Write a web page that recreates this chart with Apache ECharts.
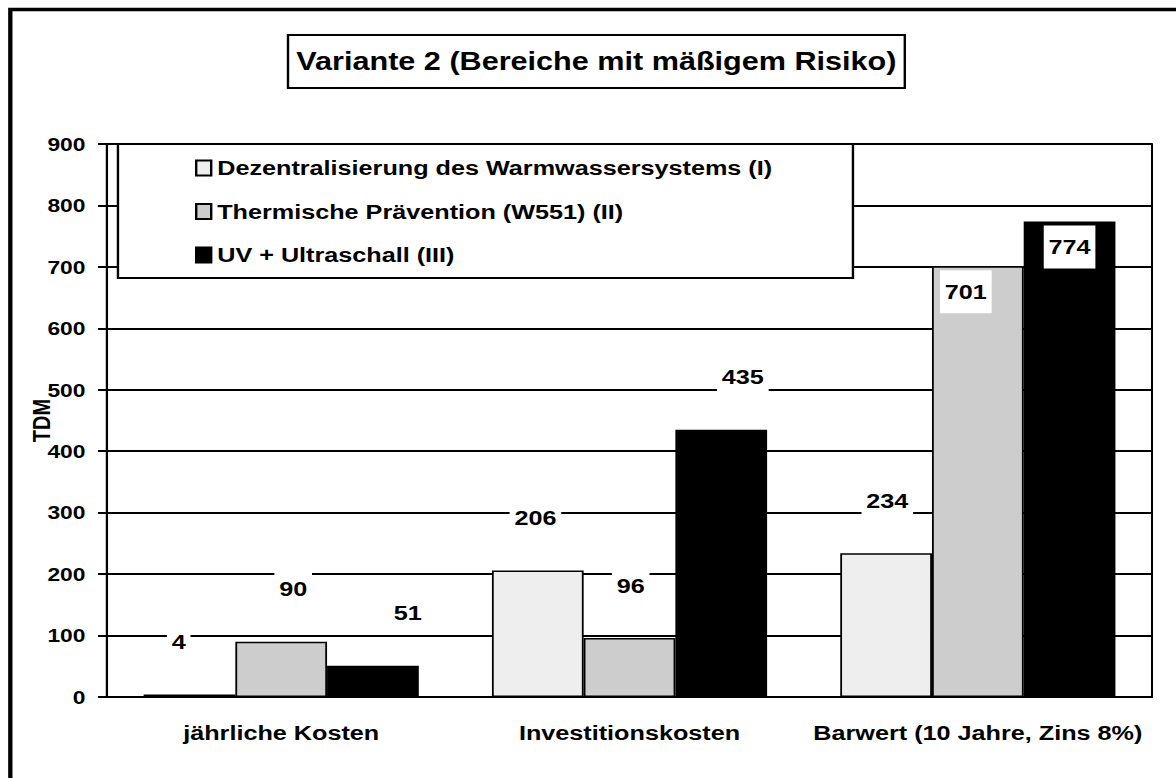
<!DOCTYPE html>
<html>
<head>
<meta charset="utf-8">
<script src="https://cdn.jsdelivr.net/npm/echarts@6/dist/echarts.min.js"></script>
<style>
  html, body { margin: 0; padding: 0; background: #fff; overflow: hidden; }
  /* the source chart is drawn horizontally stretched, so lay it out narrow and widen it */
  #chart { width: 980px; height: 778px; transform: scaleX(1.2); transform-origin: 0 0; }
</style>
</head>
<body>
<div id="chart"></div>
<script>
// ---- data ----
const categories = ['jährliche Kosten', 'Investitionskosten', 'Barwert (10 Jahre, Zins 8%)']
const seriesNames = [
  'Dezentralisierung des Warmwassersystems (I)',
  'Thermische Prävention (W551) (II)',
  'UV + Ultraschall (III)'
]
const dezentral = [4, 206, 234]
const thermisch = [90, 96, 701]
const uvSchall = [51, 435, 774]
const yMin = 0
const yMax = 900
const yStep = 100

// ---- styling ----
const FONT = '"Liberation Sans", Arial, sans-serif'
const fills = ['#eeeeee', '#cdcdcd', '#000000']
// small sideways nudges of the value labels, as in the original
const labelNudge = [[-9, -2, 1], [10, 1, -10], [29, 18, 0]]

const makeData = (values, s) => values.map((v, i) => ({
  value: v,
  label: v > 650
    ? { position: 'insideTop', distance: 4, offset: [labelNudge[s][i], 0] }
    : { position: 'top', distance: 31, offset: [labelNudge[s][i], 0] }
}))

const allValues = [dezentral, thermisch, uvSchall]

const chart = echarts.init(document.getElementById('chart'), null, { renderer: 'svg' })
chart.setOption({
  animation: false,
  textStyle: { fontFamily: FONT },
  grid: {
    left: 89.2, right: 20, top: 144, bottom: 81,
    show: true, borderColor: '#000', borderWidth: 1.7
  },
  graphic: [
    // outer frame, cut off on the right and bottom
    { type: 'rect', z: 1, shape: { x: 8.6, y: 9.5, width: 2000, height: 2000 },
      style: { fill: 'none', stroke: '#000', lineWidth: 3.6 } },
    // title box
    { type: 'rect', z: 1, shape: { x: 240, y: 35, width: 514, height: 53 },
      style: { fill: '#fff', stroke: '#000', lineWidth: 2 } },
    { type: 'text', z: 2, x: 497, y: 61,
      style: { text: 'Variante 2 (Bereiche mit mäßigem Risiko)', align: 'center', verticalAlign: 'middle',
        font: 'bold 25.5px ' + FONT, fill: '#000' } },
    // legend box
    { type: 'rect', z: 3, shape: { x: 98.3, y: 144, width: 612.5, height: 134 },
      style: { fill: '#fff', stroke: '#000', lineWidth: 2 } }
  ],
  legend: {
    orient: 'vertical',
    left: 162.5, top: 157.5,
    padding: 0,
    z: 5,
    icon: 'rect',
    itemWidth: 12.5, itemHeight: 15, itemGap: 22.5,
    textStyle: { fontSize: 21, fontWeight: 'bold', color: '#000', fontFamily: FONT },
    data: seriesNames
  },
  xAxis: {
    type: 'category',
    data: categories,
    axisLine: { lineStyle: { color: '#000', width: 2 } },
    axisTick: { length: 8, lineStyle: { color: '#000', width: 1.7 } },
    axisLabel: { interval: 0, margin: 25, fontSize: 21, fontWeight: 'bold', color: '#000', fontFamily: FONT },
    splitLine: { show: false }
  },
  yAxis: {
    type: 'value',
    min: yMin, max: yMax, interval: yStep,
    name: 'TDM',
    nameLocation: 'middle',
    nameGap: 44,
    nameMoveOverlap: false,
    nameTextStyle: { fontSize: 20, fontWeight: 'bold', color: '#000', fontFamily: FONT },
    axisLine: { show: true, lineStyle: { color: '#000', width: 1.7 } },
    axisTick: { show: true, length: 7.5, lineStyle: { color: '#000', width: 2 } },
    axisLabel: { margin: 18, fontSize: 19, fontWeight: 'bold', color: '#000', fontFamily: FONT },
    splitLine: { show: true, lineStyle: { color: '#000', width: 2 } }
  },
  series: seriesNames.map((name, s) => ({
    name,
    type: 'bar',
    barGap: '0%',
    barCategoryGap: '21%',
    data: makeData(allValues[s], s),
    itemStyle: { color: fills[s], borderColor: '#000', borderWidth: 1.5 },
    label: {
      show: true,
      color: '#000',
      fontSize: 21,
      fontWeight: 'bold',
      fontFamily: FONT,
      backgroundColor: '#fff',
      padding: [11, 4]
    }
  }))
})
</script>
</body>
</html>
